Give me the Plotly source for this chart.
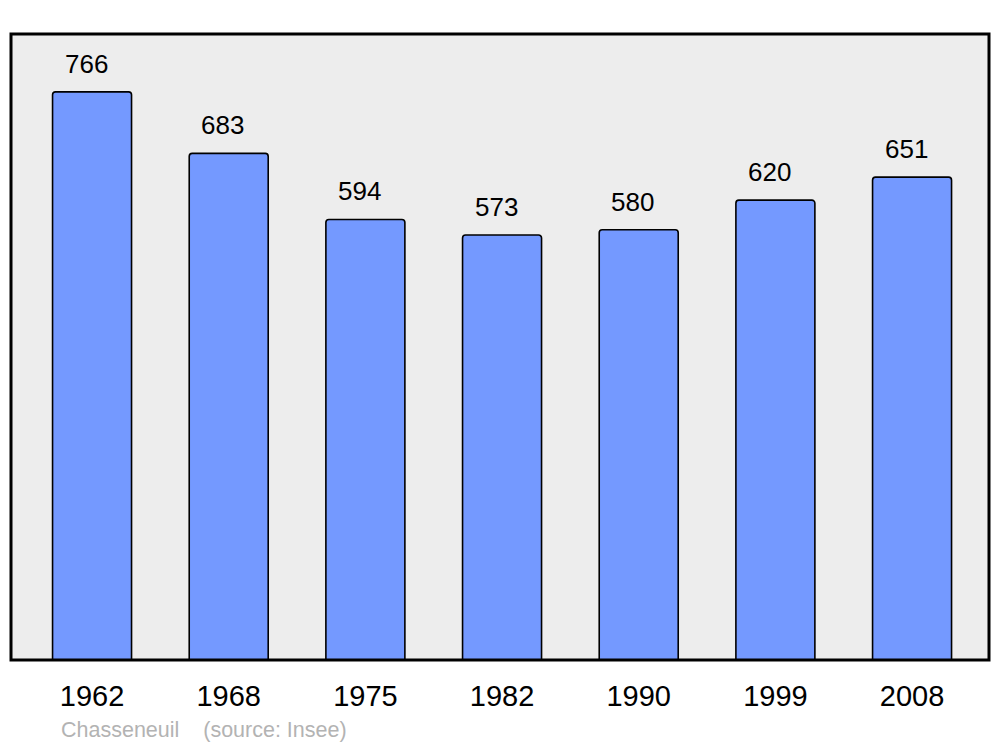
import plotly.graph_objects as go

years = ["1962", "1968", "1975", "1982", "1990", "1999", "2008"]
population = [766, 683, 594, 573, 580, 620, 651]
positions = list(range(len(years)))

fig = go.Figure()
fig.add_trace(go.Bar(
    x=positions, y=population, width=0.578,
    marker=dict(color="#7499FF", line=dict(color="#000000", width=1.6), cornerradius=3),
    hoverinfo="skip",
))

for xi, v in zip(positions, population):
    fig.add_annotation(x=xi, y=v, text=str(v), showarrow=False, yanchor="middle",
                       yshift=28, xshift=-6,
                       font=dict(family="Liberation Sans", size=26, color="#000000"))

fig.add_annotation(xref="paper", yref="paper", x=(59 - 11) / 978, y=-(730 - 660) / 626,
                   xanchor="left", yanchor="middle", showarrow=False,
                   text="Chasseneuil\u00a0\u00a0\u00a0\u00a0(source: Insee)",
                   font=dict(family="Liberation Sans", size=21.5, color="#B3B3B3"))

fig.add_shape(type="rect", xref="paper", yref="paper", x0=0, x1=1, y0=0, y1=1,
              line=dict(color="#000000", width=3), layer="above")

fig.update_layout(
    width=1000, height=747,
    margin=dict(l=11, r=11, t=34, b=87),
    paper_bgcolor="#FFFFFF", plot_bgcolor="#EDEDED",
    showlegend=False,
    xaxis=dict(range=[-0.593, 6.563], tickvals=positions, ticktext=years,
               showgrid=False, zeroline=False, ticks="outside", ticklen=10,
               tickcolor="rgba(0,0,0,0)",
               tickfont=dict(family="Liberation Sans", size=29, color="#000000")),
    yaxis=dict(range=[0, 844], showgrid=False, zeroline=False, showticklabels=False),
)

fig.write_html("out.html", config={"displayModeBar": False},
               post_script="document.body.style.margin='0';")
